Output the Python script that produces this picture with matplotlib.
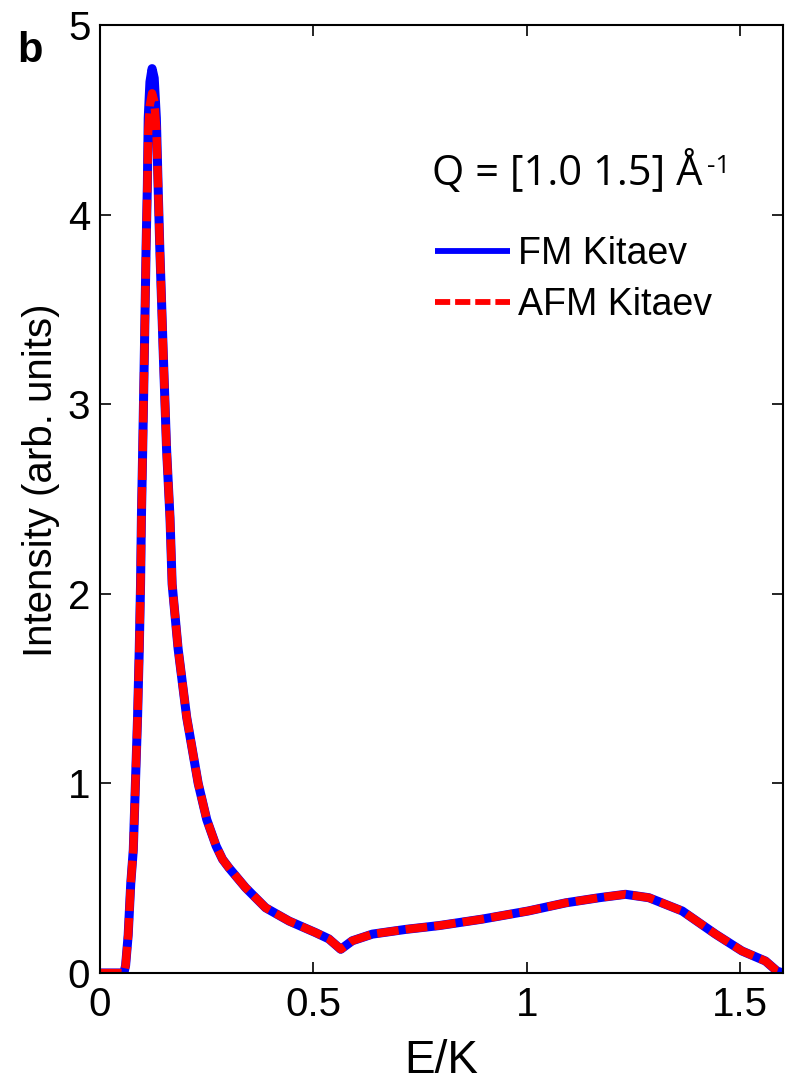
import matplotlib
matplotlib.use("Agg")
import matplotlib.pyplot as plt

# spectrum at Q = [1.0 1.5] 1/A
energy = [0.0, 0.056, 0.060, 0.066, 0.072, 0.078, 0.083, 0.088, 0.092, 0.095,
          0.097, 0.100, 0.104, 0.108, 0.111, 0.113, 0.117, 0.122, 0.127, 0.132,
          0.136, 0.140, 0.148, 0.156, 0.164, 0.169, 0.183, 0.203, 0.230, 0.250,
          0.272, 0.287, 0.302, 0.341, 0.388, 0.443, 0.505, 0.536, 0.564, 0.591,
          0.638, 0.716, 0.794, 0.895, 1.003, 1.091, 1.169, 1.231, 1.286, 1.364,
          1.442, 1.504, 1.559, 1.586, 1.600]
fm_kitaev = [0.0, 0.0, 0.04, 0.20, 0.47, 0.65, 1.00, 1.35, 1.71, 2.05,
             2.40, 2.76, 3.28, 3.83, 4.16, 4.51, 4.70, 4.77, 4.72, 4.51,
             4.16, 3.83, 3.28, 2.76, 2.40, 2.05, 1.71, 1.35, 1.00, 0.81,
             0.67, 0.60, 0.555, 0.45, 0.344, 0.274, 0.213, 0.18, 0.125, 0.17,
             0.205, 0.23, 0.25, 0.284, 0.327, 0.37, 0.397, 0.415, 0.397, 0.327,
             0.205, 0.116, 0.063, 0.01, 0.0]
afm_kitaev = [0.0, 0.0, 0.04, 0.20, 0.47, 0.65, 1.00, 1.35, 1.71, 2.05,
              2.40, 2.76, 3.28, 3.83, 4.16, 4.45, 4.58, 4.64, 4.60, 4.45,
              4.16, 3.83, 3.28, 2.76, 2.40, 2.05, 1.71, 1.35, 1.00, 0.81,
              0.67, 0.60, 0.555, 0.45, 0.344, 0.274, 0.213, 0.18, 0.125, 0.17,
              0.205, 0.23, 0.25, 0.284, 0.327, 0.37, 0.397, 0.415, 0.397, 0.327,
              0.205, 0.116, 0.063, 0.01, 0.0]

xticks = [0, 0.5, 1, 1.5]
xticklabels = ['0', '0.5', '1', '1.5']
yticks = [0, 1, 2, 3, 4, 5]

plt.rcParams['font.family'] = ['Liberation Sans', 'DejaVu Sans']

W, H = 787, 1086
fig = plt.figure(figsize=(W / 100, H / 100), dpi=100)
ax = fig.add_axes([100 / W, (H - 973) / H, (783 - 100) / W, (973 - 25) / H])

ax.plot(energy, fm_kitaev, color='#0000ff', lw=6.5, solid_capstyle='butt',
        label='FM Kitaev')
ax.plot(energy, afm_kitaev, color='#ff0000', lw=6, linestyle=(0, (2.6, 0.85)),
        label='AFM Kitaev')

ax.set_xlim(0, 1.6)
ax.set_ylim(0, 5)
ax.set_xticks(xticks)
ax.set_xticklabels(xticklabels)
ax.set_yticks(yticks)

for s in ax.spines.values():
    s.set_linewidth(1.5)
ax.tick_params(direction='in', length=8, width=1.2, top=True, right=True,
               labelsize=29)
ax.tick_params(axis='x', pad=9)
ax.tick_params(axis='y', pad=7)

ax.set_xlabel('E/K', fontsize=33, labelpad=11)
ax.set_ylabel('Intensity (arb. units)', fontsize=29)
ax.yaxis.set_label_coords(-0.058, 0.52)

leg = ax.legend(loc='upper left', bbox_to_anchor=(435 / W, 1 - 236 / H),
                bbox_transform=fig.transFigure, frameon=False, fontsize=27,
                borderpad=0, borderaxespad=0, handlelength=2.0,
                handletextpad=0.2, labelspacing=0.4)
for ln in leg.get_lines():
    ln.set_linewidth(4.2)

q = ax.text(432 / W, 1 - 185 / H, 'Q = [1.0 1.5] Å', fontsize=30,
            transform=fig.transFigure, family=['Open Sans', 'DejaVu Sans'],
            va='baseline', ha='left')
ax.annotate('-1', xy=(1, 1), xycoords=q, xytext=(3, -2),
            textcoords='offset points', va='top', ha='left', fontsize=19,
            family=['Open Sans', 'DejaVu Sans'], annotation_clip=False)

fig.text(17 / W, 1 - 62 / H, 'b', fontsize=30, fontweight='bold',
         va='baseline', ha='left')

fig.savefig('out.png', dpi=100)
